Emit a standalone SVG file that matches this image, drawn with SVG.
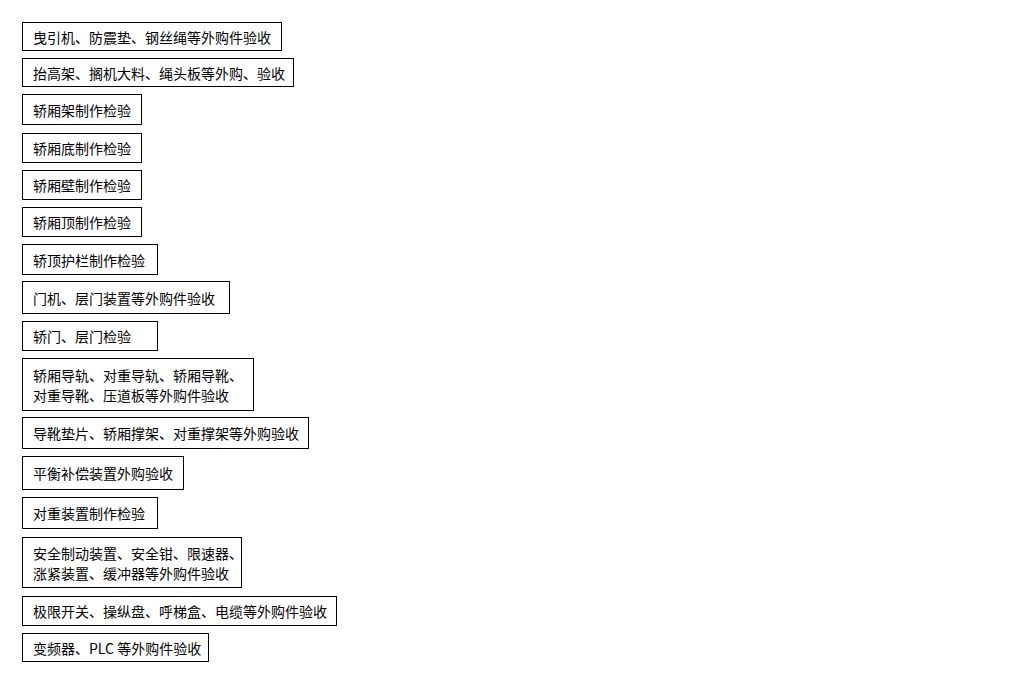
<svg xmlns="http://www.w3.org/2000/svg" width="1027" height="684" viewBox="0 0 1027 684">
<style>
rect.b{fill:#fff;stroke:#000;stroke-width:1}
text{font-family:"Noto Sans CJK SC","Noto Sans",sans-serif;font-size:14px;fill:#000}
</style>
<rect x="0" y="0" width="1027" height="684" fill="#fff"/>
<g id="n1"><rect class="b" x="22.5" y="22.5" width="259" height="28"/><text x="33" y="42.5">曳引机、防震垫、钢丝绳等外购件验收</text></g>
<g id="n2"><rect class="b" x="22.5" y="58.5" width="271" height="28"/><text x="33" y="78.5">抬高架、搁机大料、绳头板等外购、验收</text></g>
<g id="n3"><rect class="b" x="22.5" y="94.5" width="119" height="30"/><text x="33" y="115.5">轿厢架制作检验</text></g>
<g id="n4"><rect class="b" x="22.5" y="133.5" width="119" height="29"/><text x="33" y="154">轿厢底制作检验</text></g>
<g id="n5"><rect class="b" x="22.5" y="170.5" width="119" height="29"/><text x="33" y="191">轿厢壁制作检验</text></g>
<g id="n6"><rect class="b" x="22.5" y="207.5" width="119" height="29"/><text x="33" y="228">轿厢顶制作检验</text></g>
<g id="n7"><rect class="b" x="22.5" y="244.5" width="135" height="30"/><text x="33" y="265.5">轿顶护栏制作检验</text></g>
<g id="n8"><rect class="b" x="22.5" y="281.5" width="207" height="32"/><text x="33" y="303.5">门机、层门装置等外购件验收</text></g>
<g id="n9"><rect class="b" x="22.5" y="321.5" width="135" height="29"/><text x="33" y="342">轿门、层门检验</text></g>
<g id="n10"><rect class="b" x="22.5" y="358.5" width="231" height="52"/><text x="33" y="380.5">轿厢导轨、对重导轨、轿厢导靴、</text><text x="33" y="400.5">对重导靴、压道板等外购件验收</text></g>
<g id="n11"><rect class="b" x="22.5" y="417.5" width="286" height="31"/><text x="33" y="439">导靴垫片、轿厢撑架、对重撑架等外购验收</text></g>
<g id="n12"><rect class="b" x="22.5" y="456.5" width="161" height="33"/><text x="33" y="479">平衡补偿装置外购验收</text></g>
<g id="n13"><rect class="b" x="22.5" y="497.5" width="135" height="31"/><text x="33" y="519">对重装置制作检验</text></g>
<g id="n14"><rect class="b" x="22.5" y="537.5" width="219" height="50"/><text x="33" y="559">安全制动装置、安全钳、限速器、</text><text x="33" y="579">涨紧装置、缓冲器等外购件验收</text></g>
<g id="n15"><rect class="b" x="22.5" y="596.5" width="314" height="29"/><text x="33" y="617">极限开关、操纵盘、呼梯盒、电缆等外购件验收</text></g>
<g id="n16"><rect class="b" x="22.5" y="633.5" width="186" height="28"/><text x="33" y="653.5">变频器、PLC 等外购件验收</text></g>
<g id="connectors"></g>
</svg>
